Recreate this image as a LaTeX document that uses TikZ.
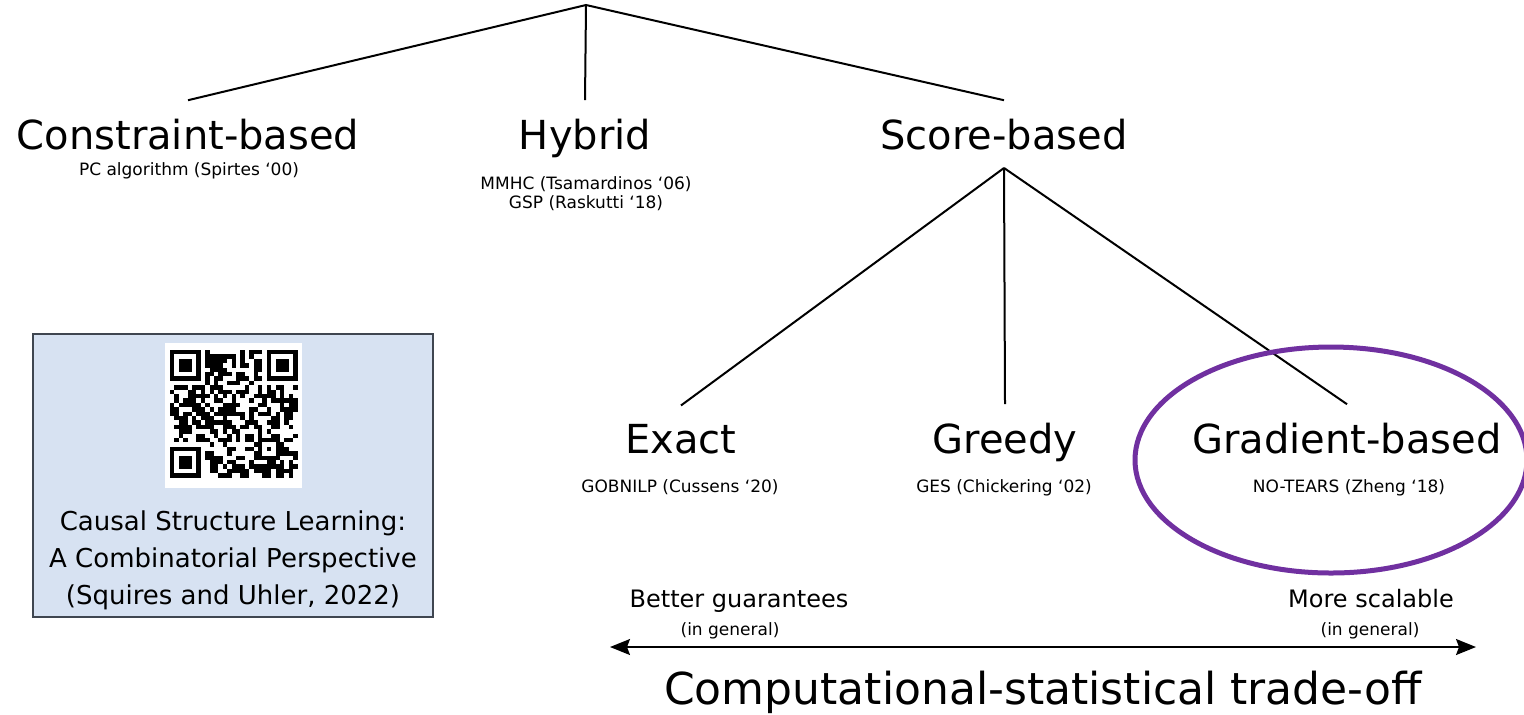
\documentclass[tikz,border=0pt]{standalone}
\usepackage{fontspec}
\setmainfont{DejaVu Sans}
\usetikzlibrary{positioning,arrows.meta}
\definecolor{boxblue}{HTML}{D7E2F2}
\definecolor{boxedge}{HTML}{3F4650}
\definecolor{ringpurple}{HTML}{7030A0}

\begin{document}
\begin{tikzpicture}[x=0.5pt,y=-0.5pt,
  title/.style={font=\fontsize{20}{24}\selectfont, inner xsep=0pt, inner ysep=9pt, anchor=base},
  cite/.style={font=\fontsize{8.5}{10}\selectfont, inner sep=0pt, anchor=base},
  note/.style={font=\fontsize{12}{14}\selectfont, inner sep=0pt, anchor=base},
  small/.style={font=\fontsize{8.5}{10}\selectfont, inner sep=0pt, anchor=base},
  branch/.style={line width=1pt}]
\useasboundingbox (0,0) rectangle (1524,714);

% Top level
\coordinate (root) at (586,5);
\node[title] (cons) at (188,149) {Constraint-based};
\node[title] (hyb) at (585,149) {Hybrid};
\node[title] (score) at (1004,149) {Score-based};
\node[cite] (pcalg) at (189,175) {PC algorithm (Spirtes ‘00)};
\node[cite] (mmhc) at (586,189) {MMHC (Tsamardinos ‘06)};
\node[cite] (gsp) at (586,208) {GSP (Raskutti ‘18)};

\draw[branch] (cons.north) -- (root) -- (score.north);
\draw[branch] (root) -- (hyb.north);

% Score-based methods
\node[title] (exact) at (681,453) {Exact};
\node[title] (greedy) at (1005,453) {Greedy};
\node[title] (grad) at (1347,453) {Gradient-based};
\node[cite] (gobnilp) at (680,492) {GOBNILP (Cussens ‘20)};
\node[cite] (ges) at (1004,492) {GES (Chickering ‘02)};
\node[cite] (notears) at (1349,492) {NO-TEARS (Zheng ‘18)};

\draw[branch] (score.south) -- (exact.north);
\draw[branch] (score.south) -- (greedy.north);
\draw[branch] (score.south) -- (grad.north);

\draw[ringpurple, line width=2.5pt] (1331,460) ellipse [x radius=196, y radius=113];

% Reference box with QR code
\node[draw=boxedge, fill=boxblue, line width=1pt, minimum width=200pt, minimum height=141.5pt] (paper) at (233,475.5) {};
\fill[white] (165,343) rectangle (302,488);
\pgfmathsetseed{23}
\foreach \i in {0,...,28}
  \foreach \j in {0,...,28}{
    \pgfmathtruncatemacro{\finder}{((\i<8 && \j<8) || (\i>20 && \j<8) || (\i<8 && \j>20) || (\i>19 && \i<25 && \j>19 && \j<25)) ? 1 : 0}
    \pgfmathtruncatemacro{\bit}{rnd<0.55 ? 1 : 0}
    \ifnum\finder=0 \ifnum\bit=1
      \fill ({170+\i*4.4},{350+\j*4.4}) rectangle ++(4.4,4.4);
    \fi\fi
  }
\foreach \fx/\fy in {0/0,22/0,0/22}{
  \fill ({170+\fx*4.4},{350+\fy*4.4}) rectangle ++(30.8,30.8);
  \fill[white] ({170+(\fx+1)*4.4},{350+(\fy+1)*4.4}) rectangle ++(22,22);
  \fill ({170+(\fx+2)*4.4},{350+(\fy+2)*4.4}) rectangle ++(13.2,13.2);
}
\fill ({170+20*4.4},{350+20*4.4}) rectangle ++(22,22);
\fill[white] ({170+21*4.4},{350+21*4.4}) rectangle ++(13.2,13.2);
\fill ({170+22*4.4},{350+22*4.4}) rectangle ++(4.4,4.4);
\node[font=\fontsize{13}{18.5}\selectfont, align=center, inner sep=0pt, anchor=north] (paperref) at (233,510)
  {Causal Structure Learning:\\A Combinatorial Perspective\\(Squires and Uhler, 2022)};

% Trade-off axis
\coordinate (lo) at (610,647);
\coordinate (hi) at (1476,647);
\draw[line width=0.8pt, {Stealth[length=10pt,width=8pt,inset=1.5pt]}-{Stealth[length=10pt,width=8pt,inset=1.5pt]}] (lo) -- (hi);
\node[note] (better) at (739,607) {Better guarantees};
\node[small] (gen1) at (730,635) {(in general)};
\node[note] (scal) at (1371,607) {More scalable};
\node[small] (gen2) at (1370,635) {(in general)};
\node[font=\fontsize{22}{26}\selectfont, inner sep=0pt, anchor=base] (trade) at (1043,704) {Computational-statistical trade-off};
\end{tikzpicture}
\end{document}
